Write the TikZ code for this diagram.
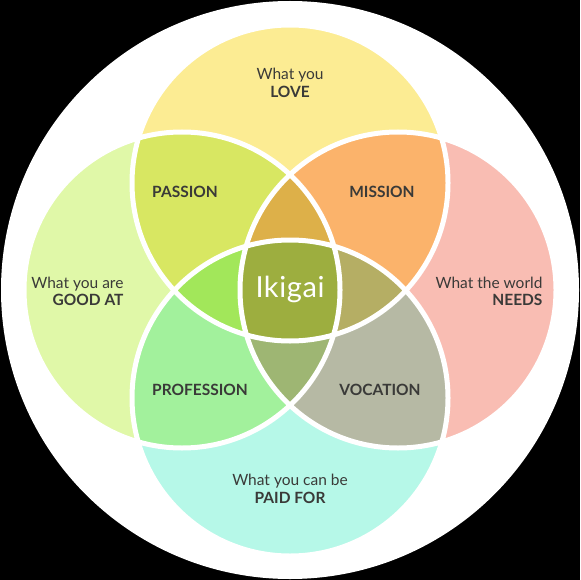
\documentclass[tikz,border=0pt]{standalone}
\usepackage{fontspec}
\setmainfont{Lato}
\usepackage{tikz}
\usetikzlibrary{positioning}

\definecolor{bgwhite}{HTML}{FFFFFF}
\definecolor{txtgray}{HTML}{3A3A38}
% single circles
\definecolor{lovecol}{HTML}{FCEC93}
\definecolor{goodcol}{HTML}{E0F8A8}
\definecolor{needcol}{HTML}{F9BDB3}
\definecolor{paidcol}{HTML}{B6F8E8}
% two circles
\definecolor{passioncol}{HTML}{D8E762}
\definecolor{missioncol}{HTML}{FBB36B}
\definecolor{profcol}{HTML}{A2F19C}
\definecolor{voccol}{HTML}{B6B9A4}
% three circles
\definecolor{toplenscol}{HTML}{DDB049}
\definecolor{leftlenscol}{HTML}{A2E75A}
\definecolor{rightlenscol}{HTML}{B5AE64}
\definecolor{botlenscol}{HTML}{9EB673}
% all four
\definecolor{ikigaicol}{HTML}{9DAE3F}

\tikzset{
    region/.style={
           text=txtgray,
           anchor=base,
           font=\fontsize{15.5}{17}\selectfont,
           },
    regionbold/.style={
           region,
           font=\fontsize{15.5}{17}\selectfont\bfseries,
           },
    border/.style={
           draw=white,
           line width=5pt,
           },
}

\newcommand{\rad}{158pt}
\newcommand{\loveC}{(love) circle[radius=\rad]}
\newcommand{\goodC}{(good) circle[radius=\rad]}
\newcommand{\needC}{(need) circle[radius=\rad]}
\newcommand{\paidC}{(paid) circle[radius=\rad]}

\begin{document}
\begin{tikzpicture}[x=1pt,y=-1pt]
 \fill[black] (0,0) rectangle (580,580);
 \useasboundingbox (0,0) rectangle (580,580);
 \fill[bgwhite] (290,290) circle[radius=289pt];

 % centres of the four circles
 \coordinate (love) at (290,183);
 \coordinate (good) at (182,290);
 \coordinate (need) at (398,290);
 \coordinate (paid) at (290,398);

 % one circle
 \fill[lovecol] \loveC;
 \fill[goodcol] \goodC;
 \fill[needcol] \needC;
 \fill[paidcol] \paidC;

 % two circles
 \begin{scope} \clip \loveC; \fill[passioncol] \goodC; \end{scope}
 \begin{scope} \clip \loveC; \fill[missioncol] \needC; \end{scope}
 \begin{scope} \clip \paidC; \fill[profcol] \goodC; \end{scope}
 \begin{scope} \clip \paidC; \fill[voccol] \needC; \end{scope}

 % three circles
 \begin{scope} \clip \goodC; \clip \needC; \fill[toplenscol] \loveC; \end{scope}
 \begin{scope} \clip \goodC; \clip \needC; \fill[botlenscol] \paidC; \end{scope}
 \begin{scope} \clip \loveC; \clip \paidC; \fill[leftlenscol] \goodC; \end{scope}
 \begin{scope} \clip \loveC; \clip \paidC; \fill[rightlenscol] \needC; \end{scope}

 % all four
 \begin{scope} \clip \loveC; \clip \paidC; \clip \goodC; \fill[ikigaicol] \needC; \end{scope}

 % white borders
 \draw[border] \loveC \goodC \needC \paidC;

 % outer texts
 \node[region] (lovetop) at (290,80) {What you};
 \node[regionbold] (lovebot) at (290,98) {LOVE};
 \node[region, anchor=base east] (goodtop) at (127,288) {What you are};
 \node[regionbold, anchor=base east] (goodbot) at (127,305) {GOOD AT};
 \node[region, anchor=base east] (needtop) at (546,288) {What the world};
 \node[regionbold, anchor=base east] (needbot) at (546,305) {NEEDS};
 \node[region] (paidtop) at (290,485) {What you can be};
 \node[regionbold] (paidbot) at (290,503) {PAID FOR};

 % overlaps
 \node[regionbold] (passion) at (185,197) {PASSION};
 \node[regionbold] (mission) at (382,197) {MISSION};
 \node[regionbold] (profession) at (200,395) {PROFESSION};
 \node[regionbold] (vocation) at (380,395) {VOCATION};
 \node[anchor=base, text=white, font=\fontsize{29}{32}\selectfont\addfontfeatures{LetterSpace=2}] (ikigai) at (290,297) {Ikigai};
\end{tikzpicture}
\end{document}
